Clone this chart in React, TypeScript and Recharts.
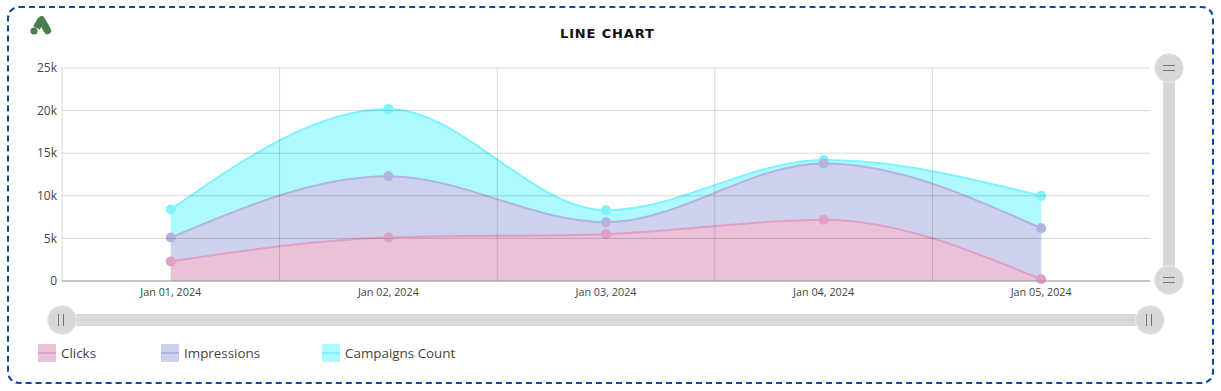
import { AreaChart, Area, XAxis, YAxis, CartesianGrid } from "recharts";

const WIDTH = 1221;
const HEIGHT = 391;
const MARGIN = { top: 68, right: 71, bottom: 80, left: 12 };
const Y_AXIS_WIDTH = 50;
const X_AXIS_HEIGHT = 30;

const dates = ["Jan 01, 2024", "Jan 02, 2024", "Jan 03, 2024", "Jan 04, 2024", "Jan 05, 2024"];
const clicks = [2300, 5100, 5500, 7200, 200];
const impressions = [5100, 12300, 6900, 13800, 6200];
const campaignsCount = [8400, 20200, 8300, 14200, 10000];
const yTicks = [0, 5000, 10000, 15000, 20000, 25000];

const data = dates.map((date, i) => ({
  date,
  clicks: clicks[i],
  impressions: impressions[i],
  campaigns: campaignsCount[i],
}));

const FONT = '"Open Sans", sans-serif';
const plotLeft = MARGIN.left + Y_AXIS_WIDTH;
const plotWidth = WIDTH - plotLeft - MARGIN.right;
const plotHeight = HEIGHT - MARGIN.top - MARGIN.bottom - X_AXIS_HEIGHT;
const bandWidth = plotWidth / dates.length;

// bands are centred on the dates, grid lines sit on the band edges
function bandEdges() {
  return [0, 1, 2, 3, 4].map((i) => plotLeft + bandWidth * i);
}

function tickRows() {
  return yTicks.map((t) => MARGIN.top + plotHeight * (1 - t / 25000));
}

function formatK(v: number) {
  return v === 0 ? "0" : `${v / 1000}k`;
}

const legendItems = [
  { label: "Clicks", fill: "#ebc1da", line: "#e09fc6", left: 38 },
  { label: "Impressions", fill: "#cdd1ec", line: "#b0b4de", left: 161 },
  { label: "Campaigns Count", fill: "#aef9fd", line: "#7df3fc", left: 322 },
];

function Handle({ left, top, vertical }: { left: number; top: number; vertical: boolean }) {
  return (
    <div
      style={{
        position: "absolute",
        left,
        top,
        width: 30,
        height: 30,
        boxSizing: "border-box",
        borderRadius: "50%",
        background: "#d8d8d8",
        border: "1px solid #eeeeee",
      }}
    >
      <div
        style={{
          position: "absolute",
          left: vertical ? 8 : 10,
          top: vertical ? 11 : 8,
          width: vertical ? 12 : 6,
          height: vertical ? 6 : 12,
          boxSizing: "border-box",
          borderColor: "#777777",
          borderStyle: "solid",
          borderWidth: vertical ? "1px 0" : "0 1px",
        }}
      />
    </div>
  );
}

function Logo() {
  return (
    <svg width={24} height={22} style={{ position: "absolute", left: 29, top: 15 }} viewBox="0 0 24 22">
      <path d="M12 5 L7.5 13" stroke="#4a7c4c" strokeWidth={7.5} />
      <path d="M12.5 5 L18.5 15.5" stroke="#4a7c4c" strokeWidth={7.5} strokeLinecap="round" />
      <circle cx={5} cy={16} r={3.6} fill="#4a7c4c" />
    </svg>
  );
}

export default function App() {
  return (
    <div style={{ position: "fixed", left: 0, top: 0, width: WIDTH, height: HEIGHT, background: "#fff", fontFamily: FONT }}>
      <AreaChart
        width={WIDTH}
        height={HEIGHT}
        data={data}
        margin={MARGIN}
        style={{ position: "absolute", left: 0, top: 0 }}
      >
        <XAxis
          dataKey="date"
          interval={0}
          height={X_AXIS_HEIGHT}
          padding={{ left: bandWidth / 2, right: bandWidth / 2 }}
          tickLine={false}
          axisLine={{ stroke: "#b0b0b0" }}
          tick={{ fontSize: 10.8, fill: "#444", fontFamily: FONT }}
          tickSize={0}
          tickMargin={7}
        />
        <YAxis
          width={Y_AXIS_WIDTH}
          domain={[0, 25000]}
          ticks={yTicks}
          tickFormatter={formatK}
          tickLine={false}
          axisLine={false}
          tick={{ fontSize: 12, fill: "#444", fontFamily: FONT }}
          tickSize={0}
          tickMargin={5}
        />
        <Area
          type="monotone"
          dataKey="campaigns"
          stroke="#7df3fc"
          strokeWidth={2}
          fill="#aef9fd"
          fillOpacity={1}
          dot={{ r: 5, fill: "#7df3fc", stroke: "none", fillOpacity: 1 }}
          isAnimationActive={false}
        />
        <Area
          type="monotone"
          dataKey="impressions"
          stroke="#b0b4de"
          strokeWidth={2}
          fill="#cdd1ec"
          fillOpacity={1}
          dot={{ r: 5, fill: "#b0b4de", stroke: "none", fillOpacity: 1 }}
          isAnimationActive={false}
        />
        <Area
          type="monotone"
          dataKey="clicks"
          stroke="#e09fc6"
          strokeWidth={2}
          fill="#ebc1da"
          fillOpacity={1}
          dot={{ r: 5, fill: "#e09fc6", stroke: "none", fillOpacity: 1 }}
          isAnimationActive={false}
        />
      </AreaChart>

      {/* grid shows through the fills in the original, so it goes in a second chart on top */}
      <AreaChart
        width={WIDTH}
        height={HEIGHT}
        data={data}
        margin={MARGIN}
        style={{ position: "absolute", left: 0, top: 0 }}
      >
        <XAxis dataKey="date" height={X_AXIS_HEIGHT} tick={false} axisLine={false} tickLine={false} />
        <YAxis width={Y_AXIS_WIDTH} domain={[0, 25000]} ticks={yTicks} tickFormatter={() => ""} axisLine={false} tickLine={false} />
        <CartesianGrid stroke="rgba(0,0,0,0.16)" vertical={false} horizontalCoordinatesGenerator={tickRows} />
        <CartesianGrid stroke="rgba(0,0,0,0.15)" horizontal={false} verticalCoordinatesGenerator={bandEdges} />
        {/* empty series, only there so the y axis gets a scale */}
        <Area dataKey="campaigns" stroke="none" fill="none" dot={false} activeDot={false} isAnimationActive={false} />
      </AreaChart>

      <div
        style={{
          position: "absolute",
          left: 7,
          top: 6,
          width: 1207,
          height: 378,
          boxSizing: "border-box",
          border: "2px dashed #0c47a8",
          borderRadius: 12,
          pointerEvents: "none",
        }}
      />
      <Logo />
      <div
        style={{
          position: "absolute",
          left: 560,
          top: 26,
          whiteSpace: "nowrap",
          fontFamily: '"DejaVu Sans", sans-serif',
          fontWeight: 700,
          fontSize: 13,
          letterSpacing: 0.85,
          color: "#111",
        }}
      >
        LINE CHART
      </div>

      <div style={{ position: "absolute", left: 1163, top: 80, width: 12, height: 188, background: "#d8d8d8" }} />
      <Handle left={1154} top={53} vertical />
      <Handle left={1154} top={265} vertical />
      <div style={{ position: "absolute", left: 75, top: 314, width: 1063, height: 12, background: "#d8d8d8" }} />
      <Handle left={47} top={305} vertical={false} />
      <Handle left={1135} top={305} vertical={false} />

      {legendItems.map((item) => (
        <div key={item.label} style={{ position: "absolute", left: item.left, top: 344, height: 18, display: "flex", alignItems: "center" }}>
          <div style={{ position: "relative", width: 18, height: 18, background: item.fill, marginRight: 5 }}>
            <div style={{ position: "absolute", left: 0, right: 0, top: 8, height: 2, background: item.line }} />
          </div>
          <span style={{ fontSize: 13.4, color: "#444", lineHeight: "18px" }}>{item.label}</span>
        </div>
      ))}
    </div>
  );
}
